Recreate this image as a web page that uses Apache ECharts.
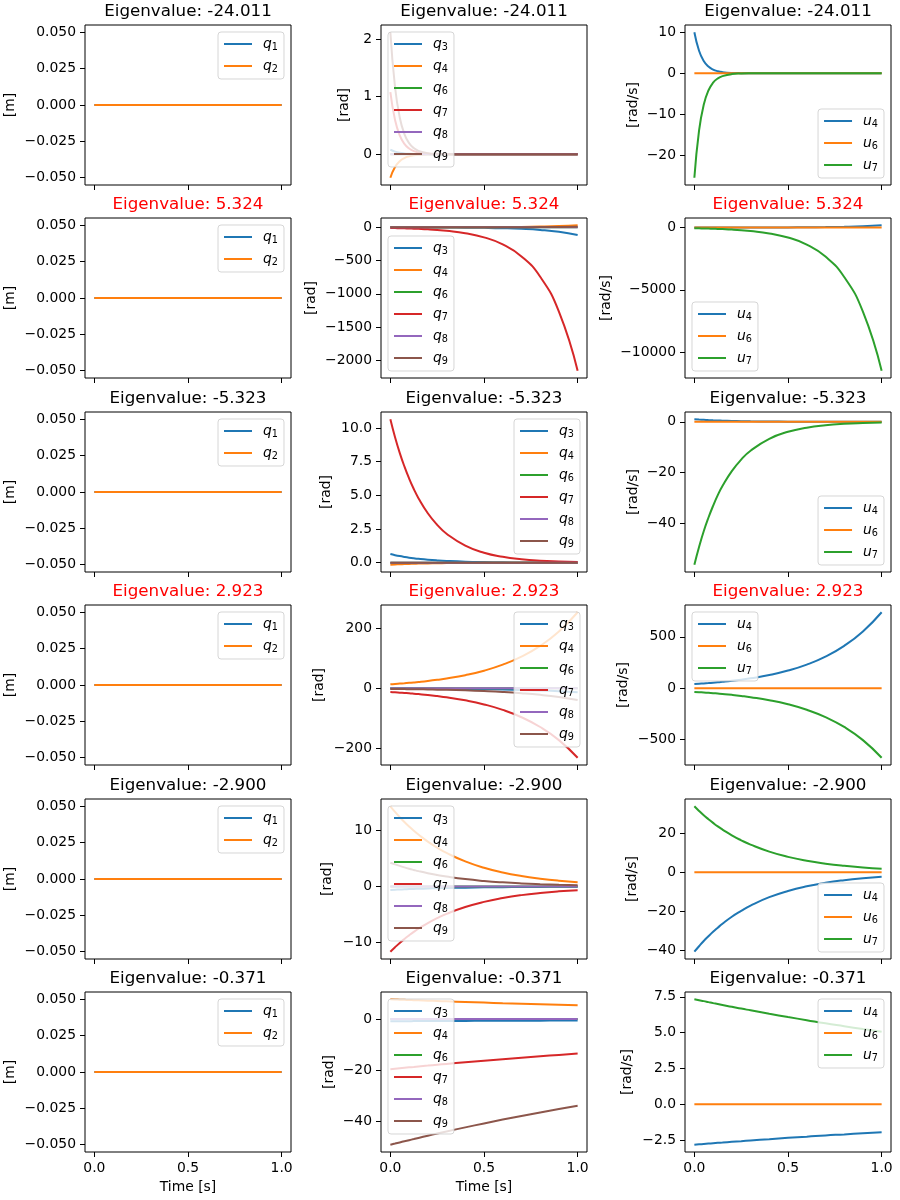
<!DOCTYPE html>
<html>
<head>
<meta charset="utf-8">
<script src="https://cdn.jsdelivr.net/npm/echarts@6/dist/echarts.min.js"></script>
<style>
  html, body { margin: 0; padding: 0; background: #fff; }
  #main { width: 900px; height: 1200px; }
</style>
</head>
<body>
<div id="main"></div>
<script>
// 时间采样点 [s]
var time = [0, 0.025, 0.05, 0.075, 0.1, 0.125, 0.15, 0.2, 0.25, 0.3, 0.4, 0.5, 0.6, 0.7, 0.8, 0.9, 1.0];
var flat = [0, 0, 0, 0, 0, 0, 0, 0, 0, 0, 0, 0, 0, 0, 0, 0, 0];

var eigenvalues = ['-24.011', '5.324', '-5.323', '2.923', '-2.900', '-0.371'];

// Eigenvalue -24.011
var e1_q3 = [0.08, 0.044, 0.024, 0.013, 0.007, 0.004, 0.002, 0.001, 0, 0, 0, 0, 0, 0, 0, 0, 0];
var e1_q4 = [-0.41, -0.225, -0.123, -0.068, -0.037, -0.020, -0.011, -0.003, -0.001, 0, 0, 0, 0, 0, 0, 0, 0];
var e1_q7 = [1.08, 0.593, 0.325, 0.178, 0.098, 0.054, 0.029, 0.009, 0.003, 0.001, 0, 0, 0, 0, 0, 0, 0];
var e1_q9 = [2.12, 1.164, 0.638, 0.350, 0.192, 0.106, 0.058, 0.017, 0.005, 0.001, 0, 0, 0, 0, 0, 0, 0];
var e1_u4 = [10, 5.49, 3.01, 1.65, 0.907, 0.498, 0.273, 0.082, 0.025, 0.007, 0.001, 0, 0, 0, 0, 0, 0];
var e1_u7 = [-25.5, -14.0, -7.68, -4.21, -2.31, -1.27, -0.70, -0.21, -0.064, -0.018, -0.003, 0, 0, 0, 0, 0, 0];

// Eigenvalue 5.324
var e2_q3 = [-0.56, -0.64, -0.73, -0.83, -0.95, -1.09, -1.24, -1.62, -2.12, -2.77, -4.7, -8.0, -13.7, -23.3, -39.6, -67.5, -115];
var e2_q4 = [0.15, 0.17, 0.2, 0.22, 0.26, 0.29, 0.33, 0.44, 0.57, 0.74, 1.26, 2.15, 3.66, 6.24, 10.6, 18.1, 30.8];
var e2_q7 = [-10.5, -12.0, -13.7, -15.7, -17.9, -20.4, -23.3, -30.5, -39.7, -51.9, -88.4, -150.6, -256, -437, -743, -1266, -2156];
var e2_q9 = [0.05, 0.06, 0.07, 0.07, 0.09, 0.1, 0.11, 0.15, 0.19, 0.25, 0.42, 0.72, 1.22, 2.08, 3.54, 6.0, 10.3];
var e2_u4 = [0.9, 1.03, 1.17, 1.34, 1.53, 1.75, 2.0, 2.61, 3.4, 4.45, 7.58, 12.9, 22.0, 37.4, 63.7, 108.5, 184.8];
var e2_u7 = [-56, -64, -73, -83.5, -95.4, -108.9, -124.4, -162.4, -211.7, -276.6, -471.5, -803, -1366, -2330, -3965, -6754, -11497];

// Eigenvalue -5.323
var e3_q3 = [0.64, 0.56, 0.49, 0.43, 0.376, 0.329, 0.288, 0.221, 0.169, 0.13, 0.076, 0.045, 0.026, 0.015, 0.009, 0.005, 0.003];
var e3_q4 = [-0.15, -0.131, -0.115, -0.101, -0.088, -0.077, -0.068, -0.052, -0.04, -0.03, -0.018, -0.01, -0.006, -0.004, -0.002, -0.001, -0.001];
var e3_q7 = [10.64, 9.31, 8.15, 7.14, 6.25, 5.47, 4.79, 3.67, 2.81, 2.15, 1.27, 0.74, 0.44, 0.26, 0.15, 0.09, 0.05];
var e3_u4 = [1.0, 0.875, 0.766, 0.671, 0.587, 0.514, 0.45, 0.345, 0.264, 0.2, 0.119, 0.07, 0.041, 0.024, 0.014, 0.008, 0.005];
var e3_u7 = [-56.3, -49.3, -43.1, -37.8, -33.1, -28.9, -25.3, -19.4, -14.9, -11.4, -6.69, -3.93, -2.31, -1.36, -0.79, -0.47, -0.28];

// Eigenvalue 2.923
var e4_q3 = [-0.7, -0.75, -0.81, -0.87, -0.94, -1.01, -1.09, -1.26, -1.45, -1.68, -2.25, -3.02, -4.05, -5.42, -7.26, -9.72, -13.0];
var e4_q4 = [13.7, 14.7, 15.9, 17.1, 18.4, 19.7, 21.2, 24.6, 28.5, 32.9, 44.1, 59.1, 79.2, 106.1, 142.1, 190.3, 254.8];
var e4_q7 = [-12.5, -13.4, -14.5, -15.6, -16.7, -18.0, -19.4, -22.4, -26.0, -30.1, -40.3, -53.9, -72.2, -96.8, -129.6, -173.6, -232.5];
var e4_q9 = [-2.1, -2.26, -2.43, -2.61, -2.81, -3.03, -3.26, -3.77, -4.36, -5.05, -6.76, -9.06, -12.1, -16.3, -21.8, -29.2, -39.1];
var e4_u4 = [39.7, 42.7, 45.9, 49.4, 53.2, 57.2, 61.5, 71.2, 82.5, 95.4, 127.8, 171.3, 229.4, 307.3, 411.7, 551.5, 738.4];
var e4_u7 = [-36.4, -39.2, -42.1, -45.3, -48.8, -52.5, -56.4, -65.3, -75.6, -87.5, -117.2, -157.0, -210.3, -281.8, -377.5, -505.6, -677];

// Eigenvalue -2.900
var e5_q3 = [-0.6, -0.56, -0.52, -0.48, -0.45, -0.42, -0.39, -0.34, -0.29, -0.25, -0.19, -0.14, -0.11, -0.08, -0.06, -0.04, -0.03];
var e5_q4 = [14.3, 13.3, 12.37, 11.5, 10.7, 9.95, 9.26, 8.01, 6.93, 5.99, 4.48, 3.35, 2.51, 1.88, 1.41, 1.05, 0.79];
var e5_q7 = [-11.6, -10.79, -10.03, -9.33, -8.68, -8.07, -7.51, -6.49, -5.62, -4.86, -3.64, -2.72, -2.04, -1.52, -1.14, -0.85, -0.64];
var e5_q9 = [4.25, 3.95, 3.68, 3.42, 3.18, 2.96, 2.75, 2.38, 2.06, 1.78, 1.33, 1.0, 0.75, 0.56, 0.42, 0.31, 0.23];
var e5_u4 = [-40.6, -37.8, -35.1, -32.7, -30.4, -28.3, -26.3, -22.7, -19.7, -17.0, -12.7, -9.52, -7.13, -5.33, -3.99, -2.98, -2.23];
var e5_u7 = [33.8, 31.4, 29.2, 27.2, 25.3, 23.5, 21.9, 18.9, 16.4, 14.2, 10.6, 7.93, 5.93, 4.44, 3.32, 2.48, 1.86];

// Eigenvalue -0.371
var e6_q3 = [-0.9, -0.89, -0.88, -0.88, -0.87, -0.86, -0.85, -0.84, -0.82, -0.81, -0.78, -0.75, -0.72, -0.69, -0.67, -0.64, -0.62];
var e6_q4 = [7.7, 7.63, 7.56, 7.49, 7.42, 7.35, 7.28, 7.15, 7.02, 6.89, 6.64, 6.4, 6.16, 5.94, 5.72, 5.51, 5.31];
var e6_q7 = [-19.7, -19.52, -19.34, -19.16, -18.98, -18.81, -18.63, -18.29, -17.95, -17.62, -16.98, -16.36, -15.77, -15.19, -14.64, -14.11, -13.59];
var e6_q9 = [-49.3, -48.85, -48.39, -47.95, -47.51, -47.07, -46.63, -45.77, -44.93, -44.1, -42.5, -40.95, -39.45, -38.02, -36.63, -35.3, -34.02];
var e6_u4 = [-2.82, -2.79, -2.77, -2.74, -2.72, -2.69, -2.67, -2.62, -2.57, -2.52, -2.43, -2.34, -2.26, -2.17, -2.10, -2.02, -1.95];
var e6_u7 = [7.33, 7.26, 7.2, 7.13, 7.06, 7.0, 6.93, 6.81, 6.68, 6.56, 6.32, 6.09, 5.87, 5.65, 5.45, 5.25, 5.06];

// 刻度
var ticksTime = [0, 0.5, 1.0];
var ticksM = [-0.05, -0.025, 0, 0.025, 0.05];
var ticksRad = [[0, 1, 2], [-2000, -1500, -1000, -500, 0], [0, 2.5, 5, 7.5, 10], [-200, 0, 200], [-10, 0, 10], [-40, -20, 0]];
var ticksRadS = [[-20, -10, 0, 10], [-10000, -5000, 0], [-40, -20, 0], [-500, 0, 500], [-40, -20, 0, 20], [-2.5, 0, 2.5, 5, 7.5]];

// 每个子图的曲线名
var namesCol = [['q1', 'q2'], ['q3', 'q4', 'q6', 'q7', 'q8', 'q9'], ['u4', 'u6', 'u7']];
var rowData = [
    [[flat, flat], [e1_q3, e1_q4, flat, e1_q7, flat, e1_q9], [e1_u4, flat, e1_u7]],
    [[flat, flat], [e2_q3, e2_q4, flat, e2_q7, flat, e2_q9], [e2_u4, flat, e2_u7]],
    [[flat, flat], [e3_q3, e3_q4, flat, e3_q7, flat, flat], [e3_u4, flat, e3_u7]],
    [[flat, flat], [e4_q3, e4_q4, flat, e4_q7, flat, e4_q9], [e4_u4, flat, e4_u7]],
    [[flat, flat], [e5_q3, e5_q4, flat, e5_q7, flat, e5_q9], [e5_u4, flat, e5_u7]],
    [[flat, flat], [e6_q3, e6_q4, flat, e6_q7, flat, e6_q9], [e6_u4, flat, e6_u7]]
];

var colors = {
    q1: '#1f77b4', q2: '#ff7f0e',
    q3: '#1f77b4', q4: '#ff7f0e', q6: '#2ca02c', q7: '#d62728', q8: '#9467bd', q9: '#8c564b',
    u4: '#1f77b4', u6: '#ff7f0e', u7: '#2ca02c'
};

(function () {
    // 布局（注意：不要用全局变量名 top，会和 window.top 冲突）
    var colLeft = [85, 381, 685];
    var rowTop = [25, 218, 412, 605, 799, 992];
    var W = 206, H = 160;
    var yNames = ['[m]', '[rad]', '[rad/s]'];
    var nameGaps = [[68, 30, 45], [68, 63, 72], [68, 48, 45], [68, 55, 55], [68, 47, 46], [68, 45, 51]];
    var legendPos = [
        ['ur', 'ul', 'lr'],
        ['ur', 'll', 'll'],
        ['ur', 'ur', 'lr'],
        ['ur', 'ur', 'ul'],
        ['ur', 'ul', 'lr'],
        ['ur', 'ul', 'ur']
    ];
    var FONT = 'DejaVu Sans';

    function decimals(ticks) {
        var d = 0;
        ticks.forEach(function (v) {
            var s = String(Math.abs(v)).split('.')[1] || '';
            d = Math.max(d, s.length);
        });
        return d;
    }
    function fmt(d) {
        return function (v) {
            return Number(v).toFixed(d).replace('-', '\u2212');
        };
    }

    var grids = [], xAxes = [], yAxes = [], series = [], titles = [], legends = [];

    for (var r = 0; r < 6; r++) {
        for (var c = 0; c < 3; c++) {
            var gi = r * 3 + c;
            var gx = colLeft[c], gy = rowTop[r];
            grids.push({
                left: gx, top: gy, width: W, height: H,
                show: true, borderColor: '#000', borderWidth: 1, backgroundColor: 'transparent'
            });

            var ev = eigenvalues[r];
            titles.push({
                text: 'Eigenvalue: ' + ev,
                left: gx + W / 2, top: gy - 22, textAlign: 'center', padding: 0,
                textStyle: {
                    fontFamily: FONT, fontSize: 16.7, fontWeight: 'normal',
                    color: parseFloat(ev) > 0 ? '#ff0000' : '#000'
                }
            });

            var isBottom = (r === 5);
            xAxes.push({
                gridIndex: gi, type: 'value', min: -0.05, max: 1.05,
                axisLine: { show: false, onZero: false },
                axisTick: { show: true, inside: false, length: 5, lineStyle: { color: '#000', width: 1 }, customValues: ticksTime },
                axisLabel: {
                    show: isBottom, customValues: ticksTime, formatter: fmt(decimals(ticksTime)),
                    color: '#000', fontFamily: FONT, fontSize: 13.9, margin: 9
                },
                splitLine: { show: false },
                name: (isBottom && c < 2) ? 'Time [s]' : '',
                nameLocation: 'middle', nameGap: 28,
                nameTextStyle: { color: '#000', fontFamily: FONT, fontSize: 13.9 }
            });

            // y 轴范围：数据范围外加 5% 边距
            var cur = rowData[r][c];
            var lo = Infinity, hi = -Infinity;
            cur.forEach(function (arr) {
                arr.forEach(function (v) { lo = Math.min(lo, v); hi = Math.max(hi, v); });
            });
            var ymin, ymax;
            if (hi - lo === 0) { ymin = lo - 0.055; ymax = hi + 0.055; }
            else { var m = (hi - lo) * 0.05; ymin = lo - m; ymax = hi + m; }
            var yt = c === 0 ? ticksM : (c === 1 ? ticksRad[r] : ticksRadS[r]);

            yAxes.push({
                gridIndex: gi, type: 'value', min: ymin, max: ymax,
                axisLine: { show: false, onZero: false },
                axisTick: { show: true, inside: false, length: 5, lineStyle: { color: '#000', width: 1 }, customValues: yt.slice() },
                axisLabel: {
                    customValues: yt.slice(), formatter: fmt(decimals(yt)),
                    color: '#000', fontFamily: FONT, fontSize: 13.9, margin: 9
                },
                splitLine: { show: false },
                name: yNames[c], nameLocation: 'middle', nameRotate: 90, nameGap: nameGaps[r][c],
                nameTextStyle: { color: '#000', fontFamily: FONT, fontSize: 13.9 }
            });

            var names = namesCol[c];
            for (var k = 0; k < names.length; k++) {
                var vals = cur[k];
                series.push({
                    name: names[k], type: 'line',
                    xAxisIndex: gi, yAxisIndex: gi,
                    data: time.map(function (t, i) { return [t, vals[i]]; }),
                    symbol: 'none', showSymbol: false,
                    smooth: 0.5,
                    lineStyle: { color: colors[names[k]], width: 2 },
                    itemStyle: { color: colors[names[k]] },
                    silent: true
                });
            }

            var lg = {
                orient: 'vertical',
                data: names.slice(),
                icon: 'rect', itemWidth: 28, itemHeight: 2, itemGap: 7,
                padding: [5, 6, 5, 6],
                backgroundColor: 'rgba(255,255,255,0.8)',
                borderColor: 'rgba(204,204,204,0.8)', borderWidth: 1, borderRadius: 3,
                selectedMode: false,
                formatter: function (nm) {
                    return '{g|}{v|' + nm.charAt(0) + '}{s|' + nm.slice(1) + '}';
                },
                textStyle: {
                    rich: {
                        g: { width: 6 },
                        v: { fontFamily: FONT, fontStyle: 'italic', fontSize: 13.9, lineHeight: 16, color: '#000' },
                        s: { fontFamily: FONT, fontSize: 9.7, lineHeight: 8, verticalAlign: 'bottom', color: '#000' }
                    }
                },
                z: 10
            };
            var p = legendPos[r][c];
            if (p.charAt(0) === 'u') lg.top = gy + 7; else lg.bottom = 1200 - (gy + H) + 7;
            if (p.charAt(1) === 'l') lg.left = gx + 7; else lg.right = 900 - (gx + W) + 7;
            legends.push(lg);
        }
    }

    var myChart = echarts.init(document.getElementById('main'));
    myChart.setOption({
        animation: false,
        backgroundColor: '#fff',
        title: titles,
        legend: legends,
        grid: grids,
        xAxis: xAxes,
        yAxis: yAxes,
        series: series
    });
})();
</script>
</body>
</html>
